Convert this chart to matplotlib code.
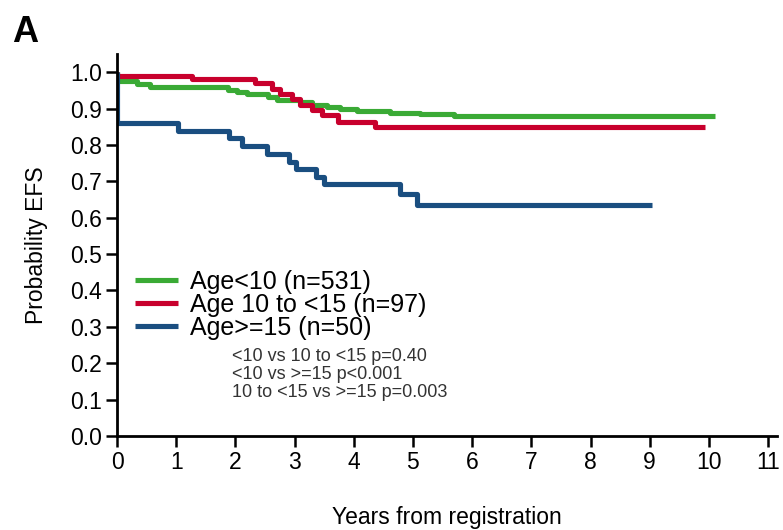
import numpy as np
import matplotlib.pyplot as plt

plt.rcParams['font.family'] = ['Liberation Sans', 'DejaVu Sans']

# Kaplan-Meier step points (years, probability)
t_lt10 = [0, 0, 0.34, 0.56, 1.88, 2.03, 2.2, 2.55, 2.7, 3.09, 3.29, 3.55, 3.77, 4.05, 4.61, 5.12, 5.7, 10.1]
s_lt10 = [1.0, 0.975, 0.967, 0.96, 0.952, 0.945, 0.939, 0.932, 0.924, 0.918, 0.911, 0.905, 0.899, 0.893, 0.888, 0.884, 0.88, 0.88]

t_10to15 = [0, 0, 1.27, 2.33, 2.62, 2.75, 2.95, 3.09, 3.29, 3.46, 3.73, 4.36, 9.93]
s_10to15 = [1.0, 0.989, 0.98, 0.969, 0.955, 0.939, 0.925, 0.909, 0.896, 0.882, 0.863, 0.848, 0.848]

t_ge15 = [0, 0, 1.03, 1.9, 2.12, 2.53, 2.9, 3.03, 3.37, 3.5, 4.78, 5.07, 9.04]
s_ge15 = [1.0, 0.86, 0.838, 0.818, 0.796, 0.776, 0.754, 0.733, 0.712, 0.692, 0.664, 0.634, 0.634]

labels = ['Age<10 (n=531)', 'Age 10 to <15 (n=97)', 'Age>=15 (n=50)']
colors = ['#3aaa35', '#c8002d', '#1a4e80']
pvals = ['<10 vs 10 to <15 p=0.40', '<10 vs >=15 p<0.001', '10 to <15 vs >=15 p=0.003']

fig = plt.figure(figsize=(7.83, 5.30), dpi=100)
ax = fig.add_axes([117 / 783, 94 / 530, 660 / 783, 382 / 530])

series = [(t_lt10, s_lt10), (t_10to15, s_10to15), (t_ge15, s_ge15)]
for (t, s), lab, c in zip(series, labels, colors):
    ax.plot(t, s, drawstyle='steps-post', color=c, lw=3.7, label=lab,
            solid_capstyle='butt')

ax.set_xlim(0, 11.15)
ax.set_ylim(0, 1.05)
ax.set_xticks(range(0, 12))
ax.set_yticks(np.arange(0, 1.01, 0.1))
ax.set_yticklabels(['%.1f' % v for v in np.arange(0, 1.01, 0.1)])
ax.tick_params(labelsize=16.5, width=1.8, length=8, pad=3)
for side in ['top', 'right']:
    ax.spines[side].set_visible(False)
for side in ['left', 'bottom']:
    ax.spines[side].set_linewidth(2)

ax.set_xlabel('Years from registration', fontsize=16.5, labelpad=23)
ax.set_ylabel('Probability EFS', fontsize=16.5, labelpad=16)

leg = ax.legend(loc='upper left', bbox_to_anchor=(0.0, 0.48), frameon=False,
                fontsize=18, handlelength=1.75, handletextpad=0.45,
                labelspacing=-0.05, borderaxespad=0.3)

for i, p in enumerate(pvals):
    ax.text(0.175, 0.208 - i * 0.047, p, transform=ax.transAxes,
            fontsize=13, color='#333333', va='center')

fig.text(12 / 783, 1 - 32 / 530, 'A', fontsize=26, fontweight='bold', va='center')

fig.savefig('out.png', dpi=100)
